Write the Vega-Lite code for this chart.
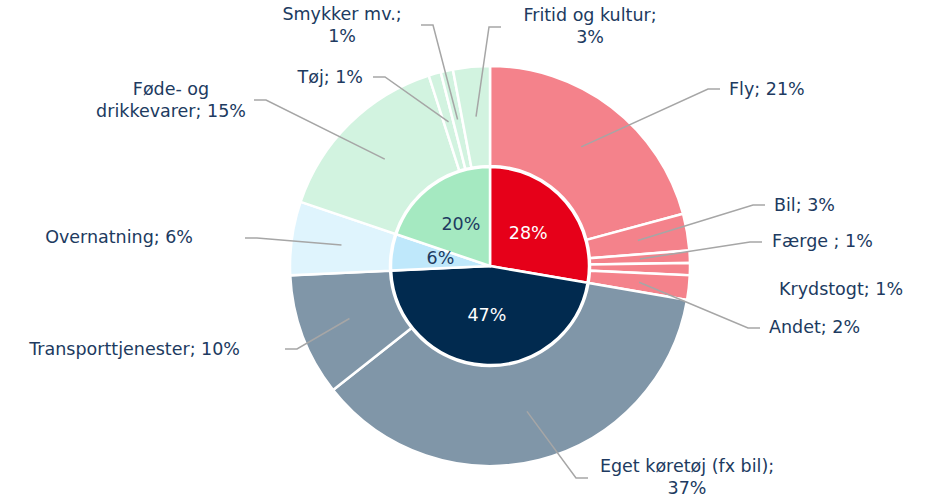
{
  "$schema": "https://vega.github.io/schema/vega-lite/v6.json",
  "width": 884,
  "height": 470,
  "padding": {"left": 48, "top": 31, "right": 0, "bottom": 0},
  "autosize": {"type": "none"},
  "background": "white",
  "config": {"view": {"stroke": null}, "font": "DejaVu Sans"},
  "resolve": {"scale": {"color": "independent"}},
  "datasets": {
    "groups": [
      {"order": 1, "group": "Rejse til/fra", "value": 28, "label": "28%"},
      {"order": 2, "group": "Lokal transport", "value": 47, "label": "47%"},
      {"order": 3, "group": "Overnatning", "value": 6, "label": "6%"},
      {"order": 4, "group": "Indkøb", "value": 20, "label": "20%"}
    ],
    "spending": [
      {"order": 1, "group": "Rejse til/fra", "sub": "Fly", "value": 21, "label": "Fly; 21%"},
      {"order": 2, "group": "Rejse til/fra", "sub": "Bil", "value": 3, "label": "Bil; 3%"},
      {"order": 3, "group": "Rejse til/fra", "sub": "Færge", "value": 1, "label": "Færge ; 1%"},
      {"order": 4, "group": "Rejse til/fra", "sub": "Krydstogt", "value": 1, "label": "Krydstogt; 1%"},
      {"order": 5, "group": "Rejse til/fra", "sub": "Andet", "value": 2, "label": "Andet; 2%"},
      {"order": 6, "group": "Lokal transport", "sub": "Eget køretøj", "value": 37, "label": "Eget køretøj (fx bil);\n37%"},
      {"order": 7, "group": "Lokal transport", "sub": "Transporttjenester", "value": 10, "label": "Transporttjenester; 10%"},
      {"order": 8, "group": "Overnatning", "sub": "Overnatning", "value": 6, "label": "Overnatning; 6%"},
      {"order": 9, "group": "Indkøb", "sub": "Føde- og drikkevarer", "value": 15, "label": "Føde- og\ndrikkevarer; 15%"},
      {"order": 10, "group": "Indkøb", "sub": "Tøj", "value": 1, "label": "Tøj; 1%"},
      {"order": 11, "group": "Indkøb", "sub": "Smykker mv.", "value": 1, "label": "Smykker mv.;\n1%"},
      {"order": 12, "group": "Indkøb", "sub": "Fritid og kultur", "value": 3, "label": "Fritid og kultur;\n3%"}
    ],
    "labelLayout": [
      {"sub": "Fly", "ex": 218, "ey": 177, "tx": 239, "ty": 176, "align": "left"},
      {"sub": "Bil", "ex": 263, "ey": 61, "tx": 284, "ty": 60, "align": "left"},
      {"sub": "Færge", "ex": 260, "ey": 24, "tx": 282, "ty": 24, "align": "left"},
      {"sub": "Krydstogt", "ex": null, "ey": null, "tx": 289, "ty": -24, "align": "left"},
      {"sub": "Andet", "ex": 258, "ey": -62, "tx": 279, "ty": -62, "align": "left"},
      {"sub": "Eget køretøj", "ex": 86, "ey": -212, "tx": 197, "ty": -201, "align": "center"},
      {"sub": "Transporttjenester", "ex": -193, "ey": -83, "tx": -250, "ty": -83.5, "align": "right"},
      {"sub": "Overnatning", "ex": -233, "ey": 28, "tx": -297, "ty": 28.5, "align": "right"},
      {"sub": "Føde- og drikkevarer", "ex": -224, "ey": 166, "tx": -319, "ty": 176, "align": "center"},
      {"sub": "Tøj", "ex": -105, "ey": 189, "tx": -127, "ty": 188.5, "align": "right"},
      {"sub": "Smykker mv.", "ex": -57, "ey": 241, "tx": -148, "ty": 251, "align": "center"},
      {"sub": "Fritid og kultur", "ex": -1, "ey": 239, "tx": 100, "ty": 250.5, "align": "center"}
    ]
  },
  "layer": [
    {
      "data": {"name": "spending"},
      "mark": {"type": "arc", "innerRadius": 100, "outerRadius": 200, "stroke": "white", "strokeWidth": 2.5},
      "encoding": {
        "theta": {"field": "value", "type": "quantitative", "stack": true},
        "order": {"field": "order", "type": "quantitative"},
        "color": {
          "field": "group", "type": "nominal", "legend": null,
          "scale": {"domain": ["Rejse til/fra", "Lokal transport", "Overnatning", "Indkøb"], "range": ["#F4828B", "#8096A8", "#DFF4FD", "#D2F3E0"]}
        }
      }
    },
    {
      "data": {"name": "groups"},
      "mark": {"type": "arc", "outerRadius": 99, "stroke": "white", "strokeWidth": 2.5},
      "encoding": {
        "theta": {"field": "value", "type": "quantitative", "stack": true},
        "order": {"field": "order", "type": "quantitative"},
        "color": {
          "field": "group", "type": "nominal", "legend": null,
          "scale": {"domain": ["Rejse til/fra", "Lokal transport", "Overnatning", "Indkøb"], "range": ["#E60019", "#012A4F", "#BFE8FB", "#A5E9C1"]}
        }
      }
    },
    {
      "data": {"name": "groups"},
      "mark": {"type": "text", "radius": 50, "fontSize": 17.5, "align": "center", "baseline": "middle"},
      "encoding": {
        "theta": {"field": "value", "type": "quantitative", "stack": true},
        "order": {"field": "order", "type": "quantitative"},
        "text": {"field": "label"},
        "color": {
          "condition": {"test": "datum.group === 'Rejse til/fra' || datum.group === 'Lokal transport'", "value": "#FFFFFF"},
          "value": "#203A60"
        }
      }
    },
    {
      "data": {"name": "spending"},
      "transform": [
        {"joinaggregate": [{"op": "sum", "field": "value", "as": "total"}]},
        {"window": [{"op": "sum", "field": "value", "as": "cum"}], "sort": [{"field": "order"}], "frame": [null, 0]},
        {"calculate": "(datum.cum - datum.value / 2) / datum.total * 2 * PI", "as": "mid"},
        {"lookup": "sub", "from": {"data": {"name": "labelLayout"}, "key": "sub", "fields": ["ex", "ey", "tx"]}},
        {"filter": "isValid(datum.ex)"},
        {"calculate": "[150 * sin(datum.mid), datum.ex, datum.ex + (datum.tx > datum.ex ? 12 : -12)]", "as": "px"},
        {"calculate": "[150 * cos(datum.mid), datum.ey, datum.ey]", "as": "py"},
        {"calculate": "[0, 1, 2]", "as": "step"},
        {"flatten": ["px", "py", "step"]}
      ],
      "mark": {"type": "line", "color": "#A6A6A6", "strokeWidth": 1.5, "strokeJoin": "miter"},
      "encoding": {
        "x": {"field": "px", "type": "quantitative", "scale": {"domain": [-442, 442], "nice": false, "zero": false}, "axis": null},
        "y": {"field": "py", "type": "quantitative", "scale": {"domain": [-235, 235], "nice": false, "zero": false}, "axis": null},
        "detail": {"field": "sub"},
        "order": {"field": "step", "type": "quantitative"}
      }
    },
    {
      "data": {"name": "spending"},
      "transform": [
        {"lookup": "sub", "from": {"data": {"name": "labelLayout"}, "key": "sub", "fields": ["tx", "ty", "align"]}},
        {"filter": "datum.align === 'left'"}
      ],
      "mark": {"type": "text", "align": "left", "baseline": "middle", "fontSize": 17.5, "color": "#203A60", "lineBreak": "\n", "lineHeight": 22},
      "encoding": {
        "x": {"field": "tx", "type": "quantitative", "scale": {"domain": [-442, 442], "nice": false, "zero": false}, "axis": null},
        "y": {"field": "ty", "type": "quantitative", "scale": {"domain": [-235, 235], "nice": false, "zero": false}, "axis": null},
        "text": {"field": "label"}
      }
    },
    {
      "data": {"name": "spending"},
      "transform": [
        {"lookup": "sub", "from": {"data": {"name": "labelLayout"}, "key": "sub", "fields": ["tx", "ty", "align"]}},
        {"filter": "datum.align === 'right'"}
      ],
      "mark": {"type": "text", "align": "right", "baseline": "middle", "fontSize": 17.5, "color": "#203A60", "lineBreak": "\n", "lineHeight": 22},
      "encoding": {
        "x": {"field": "tx", "type": "quantitative", "scale": {"domain": [-442, 442], "nice": false, "zero": false}, "axis": null},
        "y": {"field": "ty", "type": "quantitative", "scale": {"domain": [-235, 235], "nice": false, "zero": false}, "axis": null},
        "text": {"field": "label"}
      }
    },
    {
      "data": {"name": "spending"},
      "transform": [
        {"lookup": "sub", "from": {"data": {"name": "labelLayout"}, "key": "sub", "fields": ["tx", "ty", "align"]}},
        {"filter": "datum.align === 'center'"}
      ],
      "mark": {"type": "text", "align": "center", "baseline": "middle", "fontSize": 17.5, "color": "#203A60", "lineBreak": "\n", "lineHeight": 22},
      "encoding": {
        "x": {"field": "tx", "type": "quantitative", "scale": {"domain": [-442, 442], "nice": false, "zero": false}, "axis": null},
        "y": {"field": "ty", "type": "quantitative", "scale": {"domain": [-235, 235], "nice": false, "zero": false}, "axis": null},
        "text": {"field": "label"}
      }
    }
  ]
}
